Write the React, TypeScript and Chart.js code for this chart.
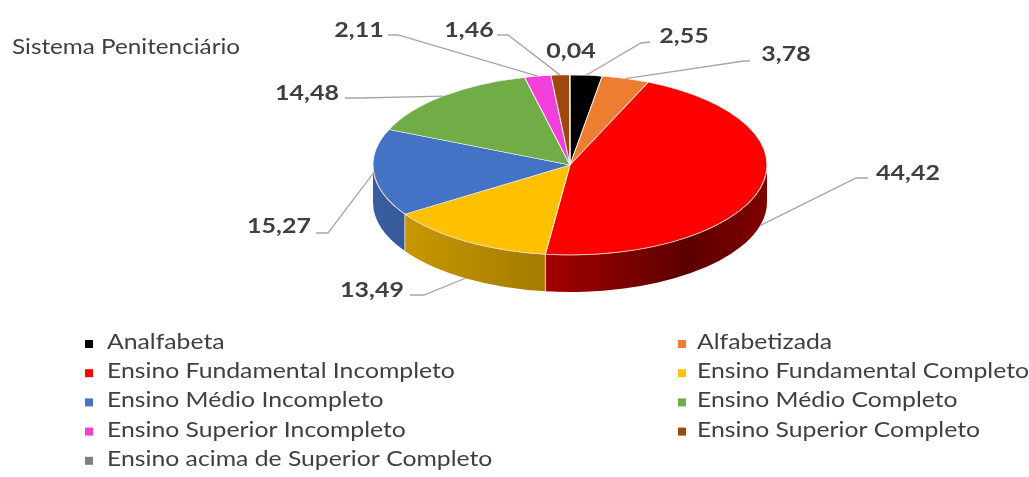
import React, { useEffect, useRef } from "react";
import { Chart, registerables } from "chart.js";

Chart.register(...registerables);

const categories = [
  "Analfabeta",
  "Alfabetizada",
  "Ensino Fundamental Incompleto",
  "Ensino Fundamental Completo",
  "Ensino Médio Incompleto",
  "Ensino Médio Completo",
  "Ensino Superior Incompleto",
  "Ensino Superior Completo",
  "Ensino acima de Superior Completo",
];
const values = [2.55, 3.78, 44.42, 13.49, 15.27, 14.48, 2.11, 1.46, 0.04];
const valueLabels = ["2,55", "3,78", "44,42", "13,49", "15,27", "14,48", "2,11", "1,46", "0,04"];
const chartTitle = "Sistema Penitenciário";

const sliceColors = [
  "#000000",
  "#ED7D31",
  "#FF0000",
  "#FFC000",
  "#4472C4",
  "#70AD47",
  "#F23FD9",
  "#9E480E",
  "#7F7F7F",
];

// geometry of the tilted pie (screen space)
const CX = 570;
const CY = 165;
const RX = 197;
const RY = 90;
const DEPTH = 37;
const SX = 1.19; // horizontal text stretch

const TEXT = "#404040";
const LEADER = "#A6A6A6";

// label placement: text baseline position, leader start, elbow, anchor drop (0 top rim, 1 bottom rim)
const labelLayout: { x: number; y: number; line?: [number, number, number, number]; drop: number }[] = [
  { x: 684, y: 43, line: [650, 42, 641, 43], drop: 0 },
  { x: 786, y: 61, line: [750, 61, 744, 61], drop: 0 },
  { x: 908, y: 180, line: [868, 178, 856, 178], drop: 1 },
  { x: 372, y: 297, line: [410, 295, 424, 295], drop: 1 },
  { x: 279, y: 233, line: [316, 233, 328, 233], drop: 0 },
  { x: 307, y: 100, line: [345, 98, 360, 98], drop: 0 },
  { x: 359, y: 37, line: [388, 35, 398, 35], drop: 0 },
  { x: 469, y: 37, line: [497, 35, 508, 35], drop: 0 },
  { x: 571, y: 58, drop: 0 },
];

function hexToRgb(h: string) {
  const n = parseInt(h.slice(1), 16);
  return [(n >> 16) & 255, (n >> 8) & 255, n & 255];
}
function shade(h: string, f: number) {
  const [r, g, b] = hexToRgb(h);
  return `rgb(${Math.round(r * f)},${Math.round(g * f)},${Math.round(b * f)})`;
}

function stretchedText(ctx: CanvasRenderingContext2D, text: string, x: number, y: number, align: CanvasTextAlign) {
  ctx.save();
  ctx.translate(x, y);
  ctx.scale(SX, 1);
  ctx.textAlign = align;
  ctx.textBaseline = "alphabetic";
  ctx.fillText(text, 0, 0);
  ctx.restore();
}

const pie3d = {
  id: "pie3d",
  beforeDatasetsDraw(chart: any) {
    const ctx: CanvasRenderingContext2D = chart.ctx;
    const meta = chart.getDatasetMeta(0);
    const arcs = meta.data;
    if (!arcs.length) return;
    // side walls (front half only)
    ctx.save();
    arcs.forEach((arc: any, i: number) => {
      const p = arc.getProps(["startAngle", "endAngle"], true);
      let a = Math.max(p.startAngle, 0);
      let b = Math.min(p.endAngle, Math.PI);
      if (b <= a) return;
      const x1 = CX + RX * Math.cos(a);
      const x2 = CX + RX * Math.cos(b);
      const grad = ctx.createLinearGradient(CX - RX, 0, CX + RX, 0);
      const col = sliceColors[i];
      grad.addColorStop(0, shade(col, 0.82));
      grad.addColorStop(0.44, shade(col, 0.64));
      grad.addColorStop(0.8, shade(col, 0.36));
      grad.addColorStop(1, shade(col, 0.5));
      ctx.beginPath();
      ctx.ellipse(CX, CY, RX, RY, 0, a, b, false);
      ctx.lineTo(x2, CY + RY * Math.sin(b) + DEPTH);
      ctx.ellipse(CX, CY + DEPTH, RX, RY, 0, b, a, true);
      ctx.lineTo(x1, CY + RY * Math.sin(a));
      ctx.closePath();
      ctx.fillStyle = grad;
      ctx.fill();
    });
    // boundaries on side
    arcs.forEach((arc: any) => {
      const p = arc.getProps(["startAngle"], true);
      const a = p.startAngle;
      if (a > 0.02 && a < Math.PI - 0.02) {
        const x = CX + RX * Math.cos(a);
        const y = CY + RY * Math.sin(a);
        ctx.beginPath();
        ctx.moveTo(x, y);
        ctx.lineTo(x, y + DEPTH);
        ctx.strokeStyle = "rgba(255,230,200,0.8)";
        ctx.lineWidth = 1;
        ctx.stroke();
      }
    });
    ctx.restore();
    // transform top surface into ellipse
    const a0 = arcs[0].getProps(["x", "y", "outerRadius"], true);
    ctx.save();
    ctx.translate(CX, CY);
    ctx.scale(RX / a0.outerRadius, RY / a0.outerRadius);
    ctx.translate(-a0.x, -a0.y);
  },
  afterDatasetsDraw(chart: any) {
    const ctx: CanvasRenderingContext2D = chart.ctx;
    ctx.restore();
    // rim highlight on front edge
    ctx.save();
    ctx.beginPath();
    ctx.ellipse(CX, CY, RX, RY, 0, 0.05, Math.PI - 0.05, false);
    ctx.strokeStyle = "rgba(255,200,180,0.7)";
    ctx.lineWidth = 1;
    ctx.stroke();
    ctx.restore();
  },
  afterDraw(chart: any) {
    const ctx: CanvasRenderingContext2D = chart.ctx;
    const arcs = chart.getDatasetMeta(0).data;
    ctx.save();
    // leader lines
    arcs.forEach((arc: any, i: number) => {
      const L = labelLayout[i];
      if (!L.line) return;
      const p = arc.getProps(["startAngle", "endAngle"], true);
      const mid = (p.startAngle + p.endAngle) / 2;
      const ax = CX + RX * Math.cos(mid);
      const ay = CY + RY * Math.sin(mid) + L.drop * DEPTH;
      ctx.beginPath();
      ctx.moveTo(L.line[0], L.line[1]);
      ctx.lineTo(L.line[2], L.line[3]);
      ctx.lineTo(ax, ay);
      ctx.strokeStyle = LEADER;
      ctx.lineWidth = 1.3;
      ctx.stroke();
    });
    // value labels
    ctx.fillStyle = TEXT;
    ctx.font = "bold 21px Lato";
    valueLabels.forEach((t, i) => {
      const L = labelLayout[i];
      stretchedText(ctx, t, L.x, L.y, "center");
    });
    // title
    ctx.font = "20.4px Lato";
    stretchedText(ctx, chartTitle, 12, 54, "left");
    // legend
    ctx.font = "20.8px Lato";
    categories.forEach((c, i) => {
      const col = i % 2;
      const row = Math.floor(i / 2);
      const baseY = 349 + row * 29.2;
      const sqX = col === 0 ? 85 : 678;
      const txX = col === 0 ? 107 : 697;
      ctx.fillStyle = sliceColors[i];
      ctx.fillRect(sqX, baseY - 9, 8, 8);
      ctx.fillStyle = TEXT;
      stretchedText(ctx, c, txX, baseY, "left");
    });
    ctx.restore();
  },
};

export default function App() {
  const ref = useRef<HTMLCanvasElement | null>(null);
  useEffect(() => {
    if (!ref.current) return;
    const chart = new Chart(ref.current, {
      type: "pie",
      data: {
        labels: categories,
        datasets: [
          {
            data: values,
            backgroundColor: sliceColors,
            borderColor: "rgba(255,255,255,0.85)",
            borderWidth: 1,
            clip: false,
          } as any,
        ],
      },
      options: {
        responsive: false,
        animation: false,
        layout: { padding: { left: 373, right: 262, top: 0, bottom: 83 } },
        plugins: { legend: { display: false }, tooltip: { enabled: false } },
      },
      plugins: [pie3d],
    });
    return () => chart.destroy();
  }, []);
  return (
    <div style={{ position: "absolute", left: 0, top: 0, width: 1029, height: 477, background: "#ffffff" }}>
      <canvas ref={ref} width={1029} height={477} style={{ display: "block" }} />
    </div>
  );
}
